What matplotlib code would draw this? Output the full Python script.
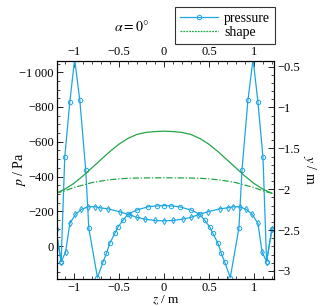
import matplotlib
matplotlib.use('Agg')
import matplotlib.pyplot as plt
from matplotlib.lines import Line2D
from matplotlib.ticker import MultipleLocator, FixedLocator, FixedFormatter

# pressure, case A (large swings near the ends)
zA = [-1.2, -1.14, -1.10, -1.044, -0.99, -0.933, -0.867, -0.833, -0.737, -0.674, -0.637,
      -0.60, -0.544, -0.508, -0.452, -0.397, -0.30, -0.174, -0.08, 0.0,
      0.08, 0.174, 0.30, 0.397, 0.452, 0.508, 0.544, 0.60, 0.637, 0.674, 0.737,
      0.833, 0.867, 0.933, 0.99, 1.044, 1.10, 1.14, 1.2]
pA = [-100, 90, -511, -828, -1075, -839, -437, -103, 181, 90, 42,
      -16, -73, -111, -149, -184, -207, -226, -231, -233,
      -231, -226, -207, -184, -149, -111, -73, -16, 42, 90, 181,
      -103, -437, -839, -1075, -828, -511, 90, -100]

# pressure, case B (smoother)
zB = [-1.2, -1.14, -1.09, -1.044, -0.981, -0.915, -0.841, -0.767, -0.711, -0.619, -0.49,
      -0.38, -0.30, -0.21, -0.10, 0.0,
      0.10, 0.21, 0.30, 0.38, 0.49, 0.619, 0.711, 0.767, 0.841, 0.915, 0.981,
      1.044, 1.09, 1.14, 1.2]
pB = [-100, 90, 34, -130, -182, -211, -226, -226, -220, -214, -197,
      -180, -165, -155, -147, -145,
      -147, -155, -165, -180, -197, -214, -220, -226, -226, -211, -182,
      -130, 34, 90, -100]

# shape curves (right axis)
zS = [-1.2, -1.1, -1.0, -0.9, -0.8, -0.7, -0.6, -0.5, -0.4, -0.3, -0.2, -0.1, 0.0,
      0.1, 0.2, 0.3, 0.4, 0.5, 0.6, 0.7, 0.8, 0.9, 1.0, 1.1, 1.2]
yS1 = [-2.05, -2.00, -1.93, -1.84, -1.74, -1.64, -1.54, -1.45, -1.38, -1.33, -1.305, -1.295, -1.29,
       -1.295, -1.305, -1.33, -1.38, -1.45, -1.54, -1.64, -1.74, -1.84, -1.93, -2.00, -2.05]
yS2 = [-2.05, -2.02, -1.98, -1.95, -1.92, -1.90, -1.885, -1.873, -1.867, -1.864, -1.862, -1.861, -1.86,
       -1.861, -1.862, -1.864, -1.867, -1.873, -1.885, -1.90, -1.92, -1.95, -1.98, -2.02, -2.05]

x_ticks = [-1, -0.5, 0, 0.5, 1]
x_labels = ['\u22121', '\u22120.5', '0', '0.5', '1']
p_ticks = [-1000, -800, -600, -400, -200, 0]
p_labels = ['\u22121\u2009000', '\u2212800', '\u2212600', '\u2212400', '\u2212200', '0']
y_ticks = [-0.5, -1, -1.5, -2, -2.5, -3]
y_labels = ['\u22120.5', '\u22121', '\u22121.5', '\u22122', '\u22122.5', '\u22123']

CYAN = '#1ea6e2'
GREEN = '#23a548'

plt.rcParams.update({'font.family': 'Liberation Serif', 'font.size': 9,
                     'mathtext.fontset': 'stix',
                     'xtick.direction': 'in', 'ytick.direction': 'in',
                     'xtick.major.size': 4, 'ytick.major.size': 4,
                     'xtick.minor.size': 2, 'ytick.minor.size': 2,
                     'xtick.major.width': 0.6, 'ytick.major.width': 0.6,
                     'xtick.minor.width': 0.5, 'ytick.minor.width': 0.5,
                     'axes.linewidth': 0.8})

fig = plt.figure(figsize=(3.2, 3.06), dpi=100)
ax = fig.add_axes([0.177, 0.088, 0.68, 0.713])

ax.plot(zA, pA, color=CYAN, lw=0.9, marker='o', ms=3.2, mfc='none', mew=0.7)
ax.plot(zB, pB, color=CYAN, lw=0.9, marker='d', ms=3.2, mfc='none', mew=0.7)
ax.set_xlim(-1.19, 1.225)
ax.set_ylim(190, -1065)
ax.xaxis.set_major_locator(FixedLocator(x_ticks))
ax.xaxis.set_major_formatter(FixedFormatter(x_labels))
ax.xaxis.set_minor_locator(MultipleLocator(0.1))
ax.yaxis.set_major_locator(FixedLocator(p_ticks))
ax.yaxis.set_major_formatter(FixedFormatter(p_labels))
ax.yaxis.set_minor_locator(MultipleLocator(50))
ax.tick_params(which='both', top=True, labeltop=True, pad=2)
ax.set_xlabel('$z$ / m', fontsize=9.5, va='center')
ax.xaxis.set_label_coords(0.5, -0.098)
ax.set_ylabel('$p$ / Pa', fontsize=10)
ax.yaxis.set_label_coords(-0.13, 0.5)

ax2 = ax.twinx()
ax2.plot(zS, yS1, color=GREEN, lw=0.9)
ax2.plot(zS, yS2, color=GREEN, lw=0.9, dashes=(5, 1.5, 1, 1.5))
ax2.set_ylim(-3.1, -0.43)
ax2.yaxis.set_major_locator(FixedLocator(y_ticks))
ax2.yaxis.set_major_formatter(FixedFormatter(y_labels))
ax2.yaxis.set_minor_locator(MultipleLocator(0.1))
ax2.tick_params(which='both', pad=2)
ax2.set_ylabel('$y$ / m', rotation=-90, fontsize=10)
ax2.yaxis.set_label_coords(1.2, 0.5)

fig.text(0.41, 0.912, '$\\alpha = 0°$', ha='center', va='center', fontsize=10)

handles = [Line2D([], [], color=CYAN, lw=0.9, marker='o', ms=3.2, mfc='none', mew=0.7),
           Line2D([], [], color=GREEN, lw=0.9, linestyle=(0, (1.5, 0.8)))]
fig.legend(handles, ['pressure', 'shape'], loc='upper right',
           bbox_to_anchor=(0.859, 0.977), borderaxespad=0, frameon=True, fancybox=False,
           edgecolor='black', fontsize=10, handlelength=2.8, borderpad=0.35,
           labelspacing=0.1, handletextpad=0.4).get_frame().set_linewidth(0.8)

fig.savefig('out.png', dpi=100)
